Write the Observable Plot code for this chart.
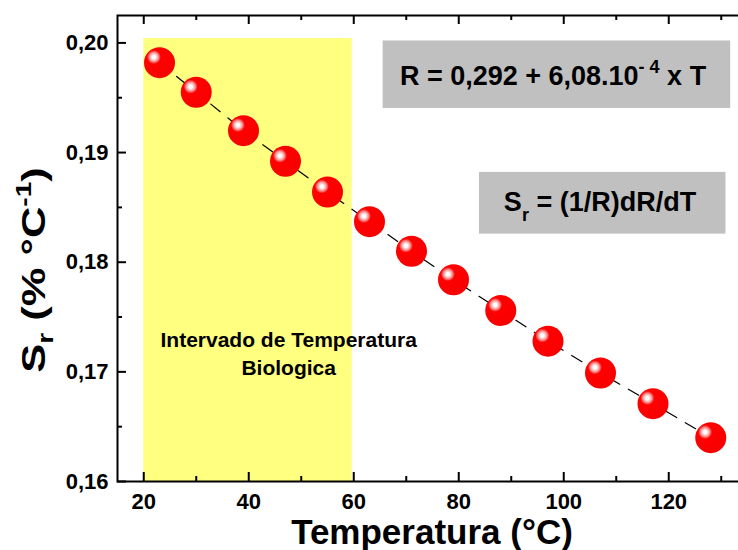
<!DOCTYPE html>
<html><head><meta charset="utf-8">
<script src="https://cdn.jsdelivr.net/npm/d3@7"></script>
<script src="https://cdn.jsdelivr.net/npm/@observablehq/plot@0.6"></script>
<style>
html,body{margin:0;padding:0;overflow:hidden;background:#fff;width:738px;height:550px;}
#chart svg{display:block;max-width:none !important;}
</style></head><body><div id="chart"></div>
<script>
// Data
const temperatura = [23, 30, 39, 47, 55, 63, 71, 79, 88, 97, 107, 117, 128];
const sensibilidade = [0.1982, 0.1955, 0.1920, 0.1892, 0.1864, 0.1837, 0.1810, 0.1784, 0.1756, 0.1728, 0.1699, 0.1671, 0.1640];
const xTicksMajor = [20, 40, 60, 80, 100, 120];
const xTicksMinor = [30, 50, 70, 90, 110, 130];
const yTicksMajor = [0.16, 0.17, 0.18, 0.19, 0.20];
const yTicksMinor = [0.165, 0.175, 0.185, 0.195];
// Highlighted biological temperature range
const faixaBiologica = [{x1: 20, x2: 59.7, y1: 0.16, y2: 0.2004}];
// Annotation boxes (data coordinates)
const caixas = [
  {x1: 65.6, x2: 131.8, y1: 0.19402, y2: 0.20018},
  {x1: 83.95, x2: 130.9, y1: 0.18256, y2: 0.18819}
];
const textoFaixa = ["Intervado de Temperatura", "Biologica"];
const xLabel = "Temperatura (°C)";

const pontos = temperatura.map((t, i) => ({t, s: sensibilidade[i]}));
const FONT = "'Liberation Sans', Arial, Helvetica, sans-serif";
const fmtY = d => d3.format(".2f")(d).replace(".", ",");

const W = 748, H = 550, ML = 117, MR = 1, MT = 15, MB = 69;
const FW = W - ML - MR, FH = H - MT - MB;
const MAJ = 9, MIN = 5;

const plot = Plot.plot({
  width: W, height: H,
  marginLeft: ML, marginRight: MR, marginTop: MT, marginBottom: MB,
  style: {fontFamily: FONT, fontWeight: "bold", fontSize: "22px", color: "#000", background: "transparent", overflow: "visible", maxWidth: "none"},
  x: {domain: [15, 135]},
  y: {domain: [0.16, 0.2025]},
  marks: [
    Plot.rect(faixaBiologica, {x1: "x1", x2: "x2", y1: "y1", y2: "y2", fill: "#FFFF80"}),
    Plot.rect(caixas, {x1: "x1", x2: "x2", y1: "y1", y2: "y2", fill: "#C0C0C0"}),
    Plot.line(pontos, {x: "t", y: "s", stroke: "#000", strokeWidth: 1.2, strokeDasharray: "12,10"}),
    Plot.dot(pontos, {x: "t", y: "s", r: 15.5, fill: "url(#esfera)", stroke: "none"}),
    // inward ticks: bottom / top
    Plot.tickX(xTicksMajor, {x: d => d, insetTop: FH - MAJ, stroke: "#000", strokeWidth: 2}),
    Plot.tickX(xTicksMinor, {x: d => d, insetTop: FH - MIN, stroke: "#000", strokeWidth: 2}),
    Plot.tickX(xTicksMajor, {x: d => d, insetBottom: FH - MAJ, stroke: "#000", strokeWidth: 2}),
    Plot.tickX(xTicksMinor, {x: d => d, insetBottom: FH - MIN, stroke: "#000", strokeWidth: 2}),
    // inward ticks: left / right
    Plot.tickY(yTicksMajor, {y: d => d, insetRight: FW - MAJ, stroke: "#000", strokeWidth: 2}),
    Plot.tickY(yTicksMinor, {y: d => d, insetRight: FW - MIN, stroke: "#000", strokeWidth: 2}),
    Plot.tickY(yTicksMajor, {y: d => d, insetLeft: FW - MAJ, stroke: "#000", strokeWidth: 2}),
    Plot.tickY(yTicksMinor, {y: d => d, insetLeft: FW - MIN, stroke: "#000", strokeWidth: 2}),
    // tick labels
    Plot.axisX({anchor: "bottom", ticks: xTicksMajor, tickSize: 0, tickPadding: 12, label: null, fontSize: 22, fontWeight: "bold"}),
    Plot.axisY({anchor: "left", ticks: yTicksMajor, tickSize: 0, tickPadding: 9, tickFormat: fmtY, label: null, fontSize: 22, fontWeight: "bold"}),
    Plot.frame({stroke: "#000", strokeWidth: 2})
  ]
});

const svg = d3.select(plot);
// sphere gradient
const defs = svg.insert("defs", ":first-child");
const grad = defs.append("radialGradient").attr("id", "esfera")
  .attr("cx", 0.32).attr("cy", 0.32).attr("fx", 0.32).attr("fy", 0.32).attr("r", 0.7);
[[0, "#ffffff"], [0.08, "#ffffff"], [0.12, "#ffd6d6"], [0.2, "#ff9a9a"], [0.26, "#ff5050"], [0.32, "#ff0000"], [1, "#f80000"]]
  .forEach(([o, c]) => grad.append("stop").attr("offset", o).attr("stop-color", c));

const sx = plot.scale("x"), sy = plot.scale("y");
const ann = svg.append("g").attr("font-family", FONT).attr("font-weight", "bold").attr("fill", "#000");

// Formula 1
const t1 = ann.append("text").attr("x", sx.apply(98.05)).attr("y", sy.apply(0.19614))
  .attr("text-anchor", "middle").attr("font-size", 27);
t1.append("tspan").text("R = 0,292 + 6,08.10");
t1.append("tspan").attr("font-size", 18).attr("dy", -12).text("- 4");
t1.append("tspan").attr("dy", 12).text(" x T");

// Formula 2
const t2 = ann.append("text").attr("x", sx.apply(107)).attr("y", sy.apply(0.18459))
  .attr("text-anchor", "middle").attr("font-size", 27);
t2.append("tspan").text("S");
t2.append("tspan").attr("font-size", 18).attr("dy", 10).text("r");
t2.append("tspan").attr("dy", -10).text(" = (1/R)dR/dT");

// Range label
ann.append("text").attr("x", sx.apply(47.7)).attr("y", sy.apply(0.17226))
  .attr("text-anchor", "middle").attr("font-size", 21).text(textoFaixa[0]);
ann.append("text").attr("x", sx.apply(47.7)).attr("y", sy.apply(0.16971))
  .attr("text-anchor", "middle").attr("font-size", 21).text(textoFaixa[1]);

// X axis title
ann.append("text").attr("x", ML + FW / 2).attr("y", 544).attr("text-anchor", "middle")
  .attr("font-size", 35).text(xLabel);

// Y axis title (stretched along its length like the original)
const yt = ann.append("text").attr("transform", "translate(45,270) rotate(-90) scale(1.28,1)")
  .attr("text-anchor", "middle").attr("font-size", 34);
yt.append("tspan").text("S");
yt.append("tspan").attr("font-size", 22).attr("dy", 8).text("r");
yt.append("tspan").attr("dy", -8).text(" (% °C");
yt.append("tspan").attr("font-size", 22).attr("dy", -14).text("-1");
yt.append("tspan").attr("dy", 14).text(")");

document.getElementById("chart").appendChild(plot);
</script></body></html>
